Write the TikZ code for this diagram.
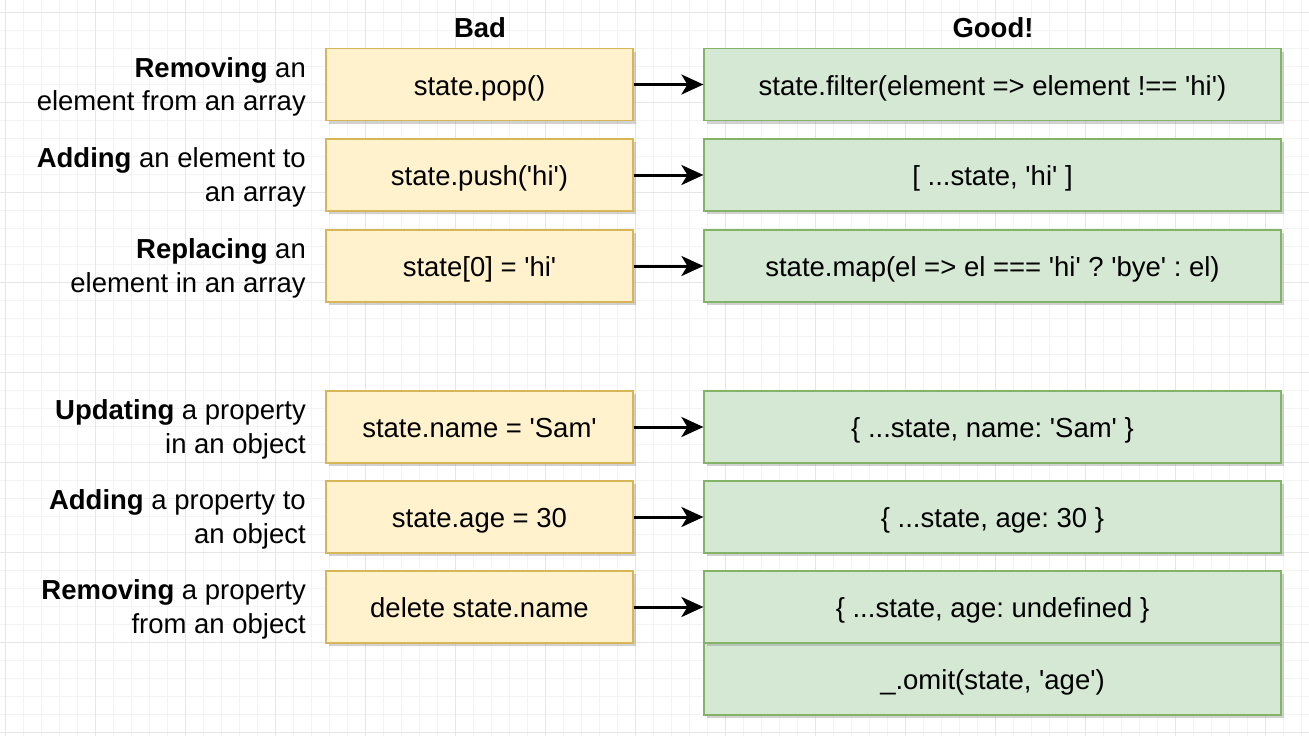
\documentclass[tikz,border=0pt]{standalone}
\usepackage{fontspec}
\setmainfont{Liberation Sans}[Ligatures=TeXOff]
\usetikzlibrary{arrows.meta,shadows}
\frenchspacing
\definecolor{badfill}{HTML}{FFF2CC}
\definecolor{baddraw}{HTML}{D6B656}
\definecolor{goodfill}{HTML}{D5E8D4}
\definecolor{gooddraw}{HTML}{82B366}
\definecolor{gridminor}{HTML}{F3F3F3}
\definecolor{gridmajor}{HTML}{E6E6E6}
\tikzset{
  boxbase/.style={rectangle, minimum height=72pt, inner sep=0pt, line width=1.2pt,
    text height=21pt, text depth=0pt,
    font=\fontsize{27.5}{36}\selectfont,
    drop shadow={shadow xshift=3pt, shadow yshift=-3pt, opacity=0.4, fill=black!45}},
  bad/.style={boxbase, fill=badfill, draw=baddraw, minimum width=307pt},
  good/.style={boxbase, fill=goodfill, draw=gooddraw, minimum width=577pt},
  lbl/.style={anchor=east, align=right, inner sep=0pt, font=\fontsize{27.5}{33.5}\selectfont},
  hdr/.style={inner sep=0pt, font=\fontsize{27.5}{33}\selectfont\bfseries},
  conn/.style={line width=3pt, -{Stealth[length=22pt, width=20pt, inset=6pt]}}
}
\begin{document}
\begin{tikzpicture}[x=1pt,y=-1pt]
\useasboundingbox (0,0) rectangle (1309,736);
\fill[white] (0,0) rectangle (1309,736);
% grid
\foreach \i in {0,...,72} {
  \pgfmathsetmacro{\xx}{5+18*\i}
  \draw[gridminor, line width=0.9pt] (\xx,0) -- (\xx,736);
}
\foreach \i in {0,...,40} {
  \pgfmathsetmacro{\yy}{12+18*\i}
  \draw[gridminor, line width=0.9pt] (0,\yy) -- (1309,\yy);
}
\foreach \i in {0,...,14} {
  \pgfmathsetmacro{\xx}{5+90*\i}
  \draw[gridmajor, line width=0.9pt] (\xx,0) -- (\xx,736);
}
\foreach \i in {0,...,8} {
  \pgfmathsetmacro{\yy}{12+90*\i}
  \draw[gridmajor, line width=0.9pt] (0,\yy) -- (1309,\yy);
}
% headers
\node[hdr] (hbad) at (480,28) {Bad};
\node[hdr] (hgood) at (993,28) {Good!};
% bad boxes
\node[bad] (b1) at (479.5,84.5) {state.pop()};
\node[bad] (b2) at (479.5,175) {state.push('hi')};
\node[bad] (b3) at (479.5,266) {state[0] = 'hi'};
\node[bad] (b4) at (479.5,427) {state.name = 'Sam'};
\node[bad] (b5) at (479.5,517) {state.age = 30};
\node[bad] (b6) at (479.5,607) {delete state.name};
% good boxes
\node[good] (g1) at (992.5,84.5) {state.filter(element => element !== 'hi')};
\node[good] (g2) at (992.5,175) {[ ...state, 'hi' ]};
\node[good] (g3) at (992.5,266) {state.map(el => el === 'hi' ? 'bye' : el)};
\node[good] (g4) at (992.5,427) {\{ ...state, name: 'Sam' \}};
\node[good] (g5) at (992.5,517) {\{ ...state, age: 30 \}};
\node[good] (g7) at (992.5,679) {\_.omit(state, 'age')};
\node[good] (g6) at (992.5,607) {\{ ...state, age: undefined \}};
% labels
\node[lbl] (l1) at (306,87) {\textbf{Removing} an\\element from an array};
\node[lbl] (l2) at (306,177.5) {\textbf{Adding} an element to\\an array};
\node[lbl] (l3) at (306,268.5) {\textbf{Replacing} an\\element in an array};
\node[lbl] (l4) at (306,429.5) {\textbf{Updating} a property\\in an object};
\node[lbl] (l5) at (306,519.5) {\textbf{Adding} a property to\\an object};
\node[lbl] (l6) at (306,609.5) {\textbf{Removing} a property\\from an object};
% connectors
\foreach \k in {1,...,6} {
  \draw[conn] (b\k.east) -- (g\k.west);
}
\end{tikzpicture}
\end{document}
